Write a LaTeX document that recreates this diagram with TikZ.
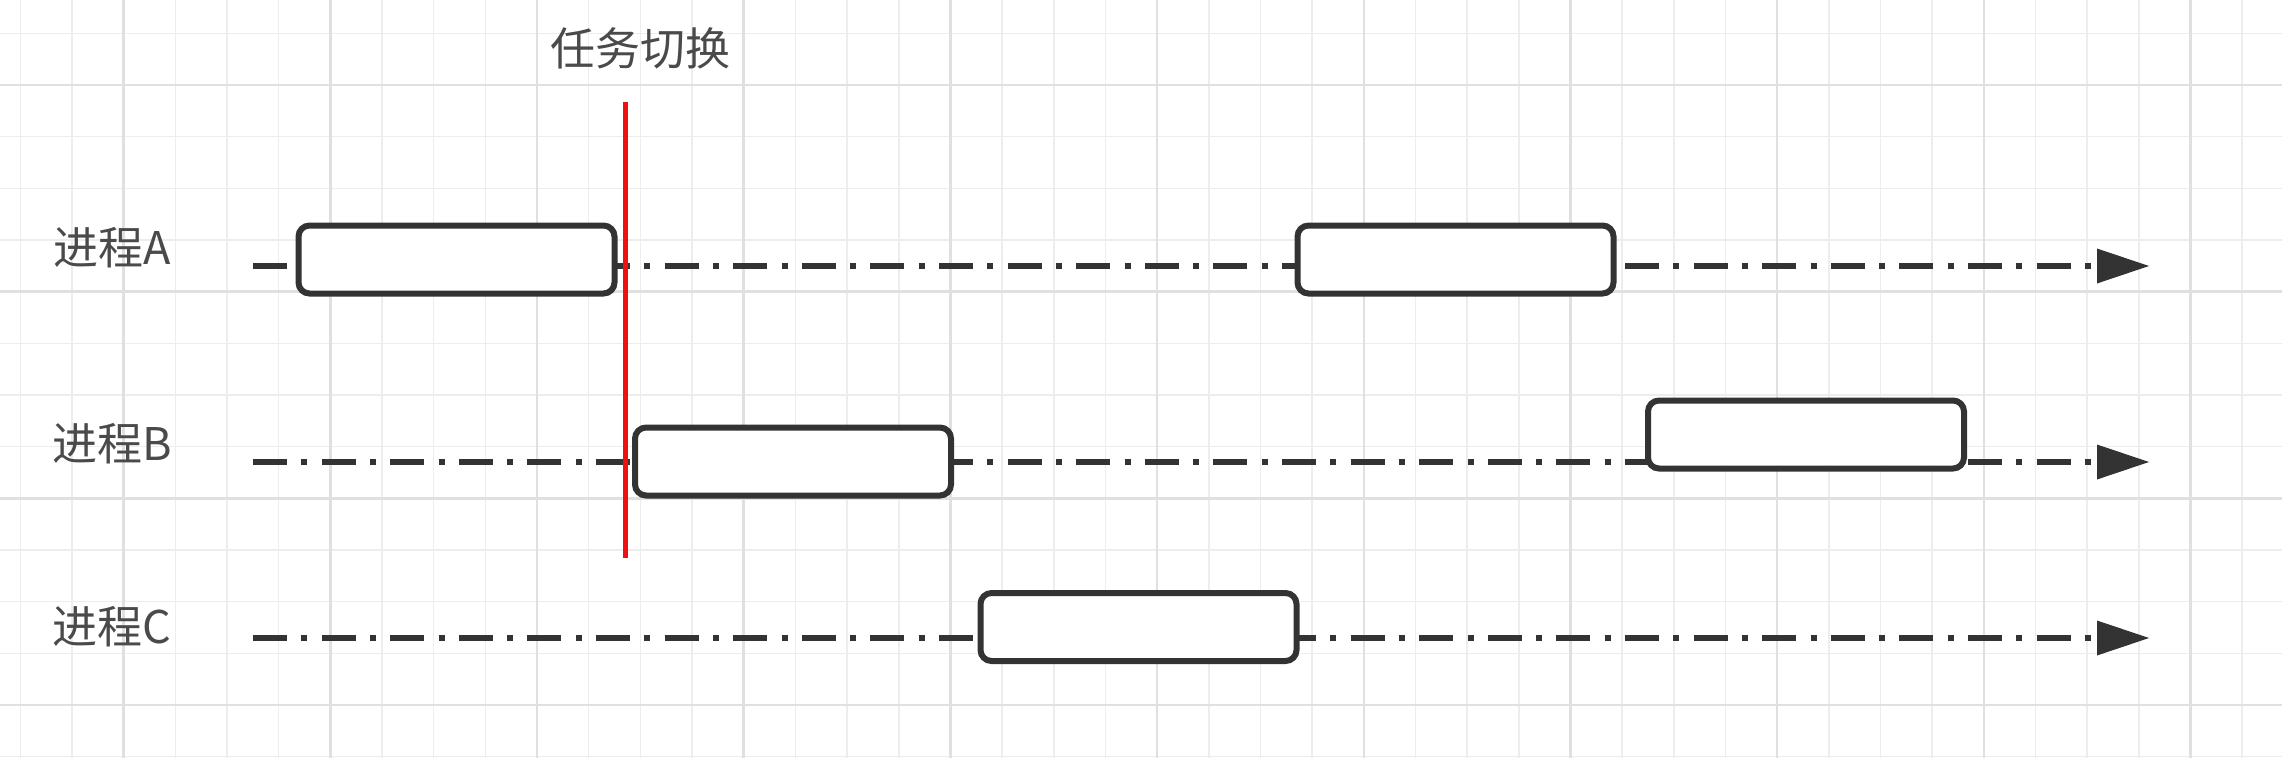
\documentclass[tikz,border=0pt]{standalone}
\usepackage{fontspec}
\newfontfamily\cjk{Noto Sans CJK SC}
\usetikzlibrary{arrows.meta}
\definecolor{inkgray}{HTML}{333333}
\definecolor{txtgray}{HTML}{4A4A4A}
\definecolor{gridminor}{HTML}{EDEDED}
\definecolor{gridmajor}{HTML}{E0E0E0}
\definecolor{switchred}{HTML}{F01010}
\tikzset{
  minorgrid/.style={draw=gridminor,line width=1.6pt},
  majorgrid/.style={draw=gridmajor,line width=2.4pt},
  procbox/.style={draw=inkgray,fill=white,line width=6pt,rounded corners=11pt,
    minimum width=316pt,minimum height=68pt,inner sep=0pt},
  timeline/.style={draw=inkgray,line width=6pt,
    dash pattern=on 34pt off 14.3pt on 6pt off 14.3pt,
    -{Triangle[length=52pt,width=35pt,line width=0pt]}},
  lbl/.style={font=\cjk\fontsize{45}{50}\selectfont,text=txtgray,inner sep=0pt},
  switchline/.style={draw=switchred,line width=5pt}
}
\begin{document}
\begin{tikzpicture}[x=1pt,y=-1pt]
\useasboundingbox (0,0) rectangle (2282,758);
\fill[white] (0,0) rectangle (2282,758);
% grid
\foreach \k in {0,...,43} {\draw[minorgrid] ({20.3+\k*51.67},0) -- ({20.3+\k*51.67},758);}
\foreach \k in {0,...,14} {\draw[minorgrid] (0,{33.3+\k*51.67}) -- (2282,{33.3+\k*51.67});}
\foreach \k in {2,6,...,42} {\draw[majorgrid] ({20.3+\k*51.67},0) -- ({20.3+\k*51.67},758);}
\foreach \k in {1,5,9,13} {\draw[majorgrid] (0,{33.3+\k*51.67}) -- (2282,{33.3+\k*51.67});}
% timelines
\coordinate (as) at (253,266); \coordinate (ae) at (2149,266);
\coordinate (bs) at (253,462); \coordinate (be) at (2149,462);
\coordinate (cs) at (253,638); \coordinate (ce) at (2149,638);
\draw[timeline] (as) -- (ae);
\draw[timeline] (bs) -- (be);
\draw[timeline] (cs) -- (ce);
% boxes
\node[procbox] (a1) at (456.5,259.5) {};
\node[procbox] (a2) at (1455.5,259.5) {};
\node[procbox] (b1) at (793,461.5) {};
\node[procbox] (b2) at (1806,434.5) {};
\node[procbox] (c1) at (1138.5,627) {};
% labels
\node[lbl] (la) at (112,248) {进程A};
\node[lbl] (lb) at (112,444) {进程B};
\node[lbl] (lc) at (112,627) {进程C};
\node[lbl] (title) at (640,48) {任务切换};
% switch line
\coordinate (rt) at (625,102); \coordinate (rb) at (625,558);
\draw[switchline] (rt) -- (rb);
\end{tikzpicture}
\end{document}
